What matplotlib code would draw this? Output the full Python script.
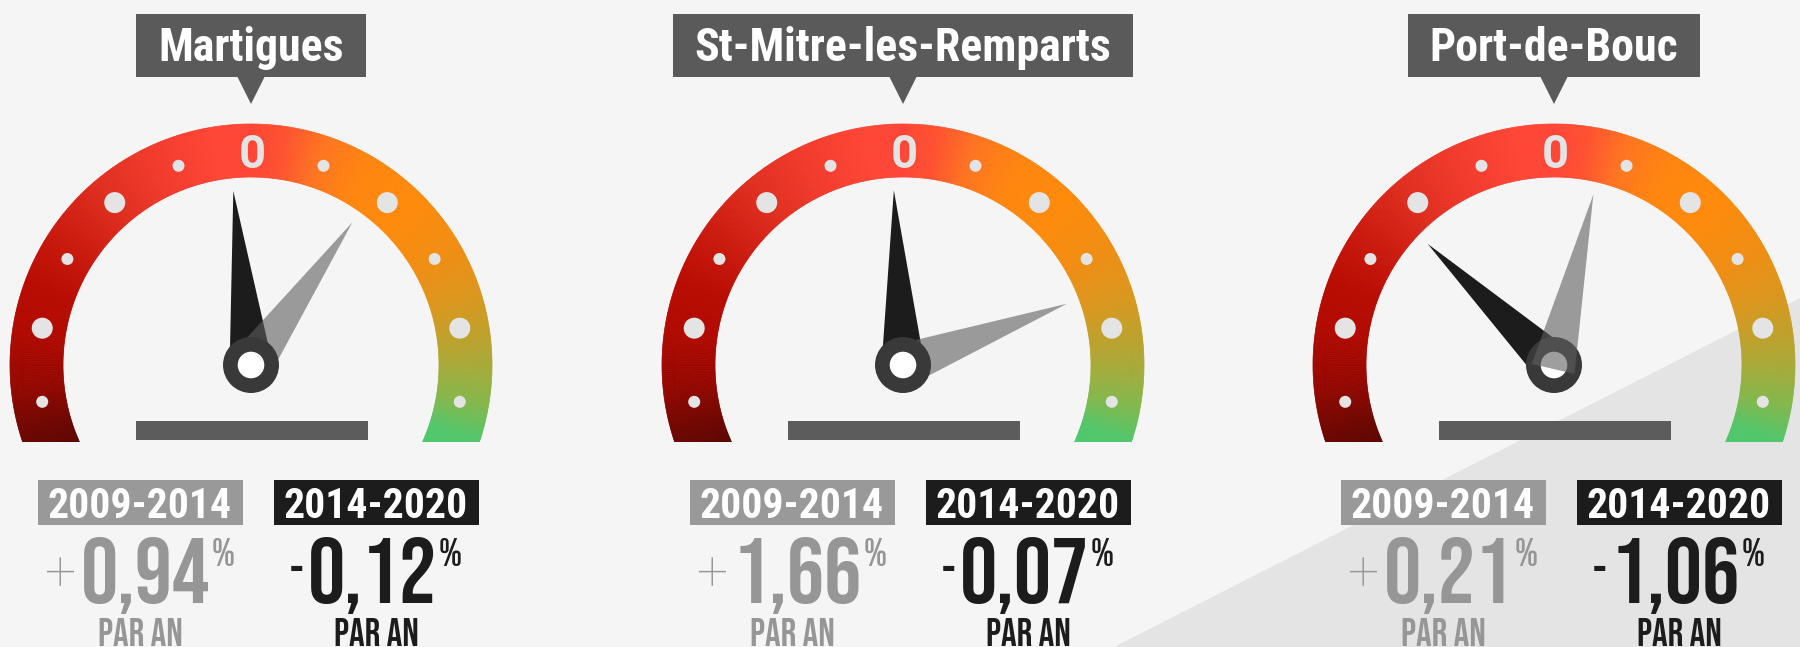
import numpy as np
import matplotlib.pyplot as plt
from matplotlib.patches import Rectangle, Polygon, Circle
from matplotlib.collections import PolyCollection
from matplotlib.colors import to_rgb

# data read from the infographic
communes = ['Martigues', 'St-Mitre-les-Remparts', 'Port-de-Bouc']
periods = ['2009-2014', '2014-2020']
growth_0914 = [0.94, 1.66, 0.21]     # % par an
growth_1420 = [-0.12, -0.07, -1.06]  # % par an
# needle angles as drawn (degrees from vertical, + = right)
needle_0914 = [35.4, 69.5, 13.0]
needle_1420 = [-5.8, -3.0, -46.2]
grey_over_hub = [False, False, True]

W, H = 1800, 647
BG = '#f5f5f5'
GAUGE_X = [251, 903, 1554]
CY = 365
R_OUT, R_IN, R_DOT = 241, 188, 212
CUT_Y = 442

COND = ['Roboto Condensed', 'Barlow Condensed', 'DejaVu Sans']
BEBAS = ['Bebas Neue', 'Oswald', 'DejaVu Sans']
ROBOTO = ['Roboto', 'DejaVu Sans']

# colour stops along the dial (angle in degrees, 90 = top)
stops = [(-25, '#4cc86c'), (-18, '#52c66a'), (-10, '#82b84c'), (0, '#a8aa38'),
         (8, '#c0a02a'), (18, '#dc961c'), (30, '#f08d12'), (45, '#ff8a0a'),
         (60, '#ff850e'), (72, '#ff7420'), (82, '#ff5030'), (90, '#ff4535'),
         (100, '#ff4535'), (115, '#f23a2c'), (130, '#e02e1f'), (145, '#cc1a0e'),
         (160, '#b80a00'), (172, '#b00900'), (185, '#950700'), (198, '#6a0500'),
         (205, '#5a0400')]
stop_ang = np.array([s[0] for s in stops])
stop_rgb = np.array([to_rgb(s[1]) for s in stops])


def dial_color(a):
    return tuple(np.interp(a, stop_ang, stop_rgb[:, k]) for k in range(3))


def pt(cx, r, a):
    t = np.radians(a)
    return (cx + r * np.cos(t), CY - r * np.sin(t))


fig = plt.figure(figsize=(18, 6.47), dpi=100)
fig.patch.set_facecolor(BG)
ax = fig.add_axes([0, 0, 1, 1])
ax.set_xlim(0, W)
ax.set_ylim(H, 0)
ax.axis('off')

# light diagonal band in the lower right corner
ax.add_patch(Polygon([(1114, H), (W, 298), (W, H)], closed=True,
                     facecolor='#e4e4e4', lw=0, zorder=0))

titles = []
number_groups = []

for i, name in enumerate(communes):
    cx = GAUGE_X[i]

    # gradient dial
    angs = np.linspace(-25, 205, 461)
    polys, cols = [], []
    for a0, a1 in zip(angs[:-1], angs[1:]):
        polys.append([pt(cx, R_OUT, a0), pt(cx, R_OUT, a1),
                      pt(cx, R_IN, a1), pt(cx, R_IN, a0)])
        cols.append(dial_color((a0 + a1) / 2))
    pc = PolyCollection(polys, facecolors=cols, edgecolors=cols, linewidths=0.5, zorder=1)
    ax.add_collection(pc)
    pc.set_clip_path(Rectangle((0, 0), W, CUT_Y, transform=ax.transData))

    # dots and the zero mark
    for k in [-5, -4, -3, -2, -1, 1, 2, 3, 4, 5]:
        r = 10.5 if k % 2 == 0 else 6
        ax.add_patch(Circle(pt(cx, R_DOT, 90 + 20 * k), r, color='#e4e4e4', lw=0, zorder=2))
    ax.text(cx + 1, 168, '0', ha='center', va='baseline', fontsize=34,
            fontweight='bold', family=ROBOTO, color='#e4e4e4', zorder=2)

    # bar under the dial
    ax.add_patch(Rectangle((cx - 115, 421), 232, 19, color='#5c5c5c', lw=0, zorder=2))

    # needles
    for ang, col, alpha, z in [(needle_1420[i], '#1c1c1c', 1.0, 3),
                               (needle_0914[i], '#5e5e5e', 0.6, 6 if grey_over_hub[i] else 4)]:
        t = np.radians(ang)
        d = np.array([np.sin(t), -np.cos(t)])
        p = np.array([np.cos(t), np.sin(t)])
        c = np.array([cx, CY])
        tip = c + 175 * d
        base = c - 4 * d
        ax.add_patch(Polygon([tip, base + 22 * p, base - 22 * p], closed=True,
                             facecolor=col, alpha=alpha, lw=0, zorder=z))
    ax.add_patch(Circle((cx, CY), 28, color='#393939', lw=0, zorder=5))
    ax.add_patch(Circle((cx, CY), 13.3, color='white', lw=0, zorder=5.5))

    # title label
    t = ax.text(cx, 61, name, ha='center', va='baseline', fontsize=33, fontweight='bold',
                family=COND, color='white', zorder=8)
    titles.append((cx, t))
    ax.add_patch(Polygon([(cx - 14, 76), (cx + 14, 76), (cx, 104)], closed=True,
                         color='#5a5a5a', lw=0, zorder=7))

    # period boxes and figures
    for j, (off, box_col, txt_col, val) in enumerate([
            (-111, '#999999', '#969696', growth_0914[i]),
            (125, '#1c1c1c', '#1c1c1c', growth_1420[i])]):
        bx = cx + off
        ax.add_patch(Rectangle((bx - 102.5, 480), 205, 45, color=box_col, lw=0, zorder=7))
        ax.text(bx, 518, periods[j], ha='center', va='baseline', fontsize=30,
                fontweight='bold', family=COND, color='white', zorder=8)
        if val >= 0:
            sign = ax.text(0, 590, '+', ha='left', va='baseline', fontsize=40,
                           fontweight='light', family=ROBOTO, color=txt_col, zorder=8)
        else:
            sign = ax.text(0, 586, '-', ha='left', va='baseline', fontsize=36,
                           family=BEBAS, color=txt_col, zorder=8)
        num = ax.text(0, 603, f'{abs(val):.2f}'.replace('.', ','), ha='left', va='baseline',
                      fontsize=67, family=BEBAS, color=txt_col, zorder=8)
        pct = ax.text(0, 566, '%', ha='left', va='baseline', fontsize=28,
                      family=BEBAS, color=txt_col, zorder=8)
        ax.text(bx, 646, 'PAR AN', ha='center', va='baseline', fontsize=28,
                family=BEBAS, color=txt_col, zorder=8)
        number_groups.append((bx, sign, num, pct))

# second pass: size title boxes and centre the figures from measured text widths
fig.canvas.draw()
renderer = fig.canvas.get_renderer()
for cx, t in titles:
    w = t.get_window_extent(renderer).width
    ax.add_patch(Rectangle((cx - w / 2 - 22, 14), w + 44, 63, color='#5a5a5a', lw=0, zorder=7))

for bx, sign, num, pct in number_groups:
    ws = sign.get_window_extent(renderer).width
    wn = num.get_window_extent(renderer).width
    wp = pct.get_window_extent(renderer).width
    total = ws + 4 + wn + 2 + wp
    x0 = bx - total / 2
    sign.set_x(x0)
    num.set_x(x0 + ws + 4)
    pct.set_x(x0 + ws + 4 + wn + 2)

fig.savefig('out.png', dpi=100, facecolor=BG)
